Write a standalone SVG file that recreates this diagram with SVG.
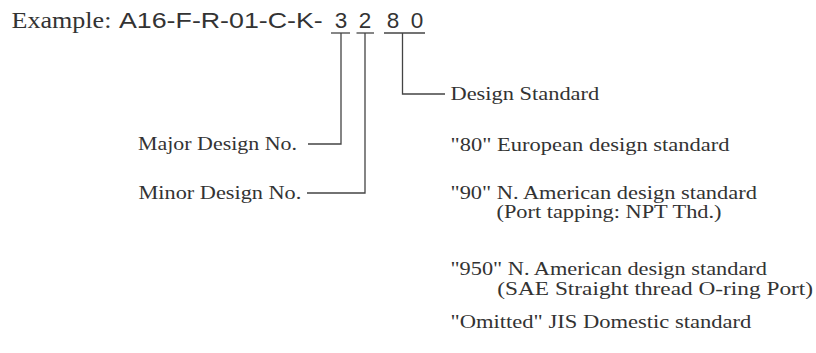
<svg xmlns="http://www.w3.org/2000/svg" width="816" height="353" viewBox="0 0 816 353">
<style>
.serif{font-family:"Liberation Serif","Times New Roman",serif;fill:#333;}
.sans{font-family:"Liberation Sans",Arial,sans-serif;fill:#333;}
.lbl{font-size:19px;}
.sub{font-size:18.5px;}
.ln{fill:none;stroke:#444;stroke-width:1.3;}
</style>
<rect width="816" height="353" fill="#fff"/>
<g id="example">
<text class="serif" font-size="23" transform="translate(11.5,27.5) scale(1.134,1)">Example:</text>
<text class="sans" font-size="22.5" transform="translate(119,28) scale(1.19,1)">A16-F-R-01-C-K-</text>
<text class="sans" x="341" y="28" font-size="22.5" text-anchor="middle">3</text>
<text class="sans" x="365" y="28" font-size="22.5" text-anchor="middle">2</text>
<text class="sans" x="393" y="28" font-size="22.5" text-anchor="middle">8</text>
<text class="sans" x="417" y="28" font-size="22.5" text-anchor="middle">0</text>
</g>
<g id="major">
<text class="serif lbl" transform="translate(138,149.5) scale(1.155,1)">Major Design No.</text>
</g>
<g id="minor">
<text class="serif lbl" transform="translate(138.5,199) scale(1.174,1)">Minor Design No.</text>
</g>
<g id="design-standard">
<text class="serif lbl" transform="translate(450.5,100) scale(1.18,1)">Design Standard</text>
<text class="serif lbl" transform="translate(450.5,151) scale(1.185,1)">"80" European design standard</text>
<text class="serif lbl" transform="translate(450.5,198.5) scale(1.18,1)">"90" N. American design standard</text>
<text class="serif sub" transform="translate(496.5,218) scale(1.208,1)">(Port tapping: NPT Thd.)</text>
<text class="serif lbl" transform="translate(450.5,275) scale(1.176,1)">"950" N. American design standard</text>
<text class="serif sub" transform="translate(497.3,294.5) scale(1.26,1)">(SAE Straight thread O-ring Port)</text>
<text class="serif lbl" transform="translate(450.5,328.3) scale(1.187,1)">"Omitted" JIS Domestic standard</text>
</g>
<g id="connectors">
<line class="ln" x1="331" y1="33" x2="350" y2="33"/>
<line class="ln" x1="356.5" y1="33" x2="374" y2="33"/>
<line class="ln" x1="384" y1="33" x2="425" y2="33"/>
<polyline class="ln" points="341,33 341,144 308,144"/>
<polyline class="ln" points="365,33 365,193 307,193"/>
<polyline class="ln" points="402.5,33 402.5,94 445,94"/>
</g>
</svg>
